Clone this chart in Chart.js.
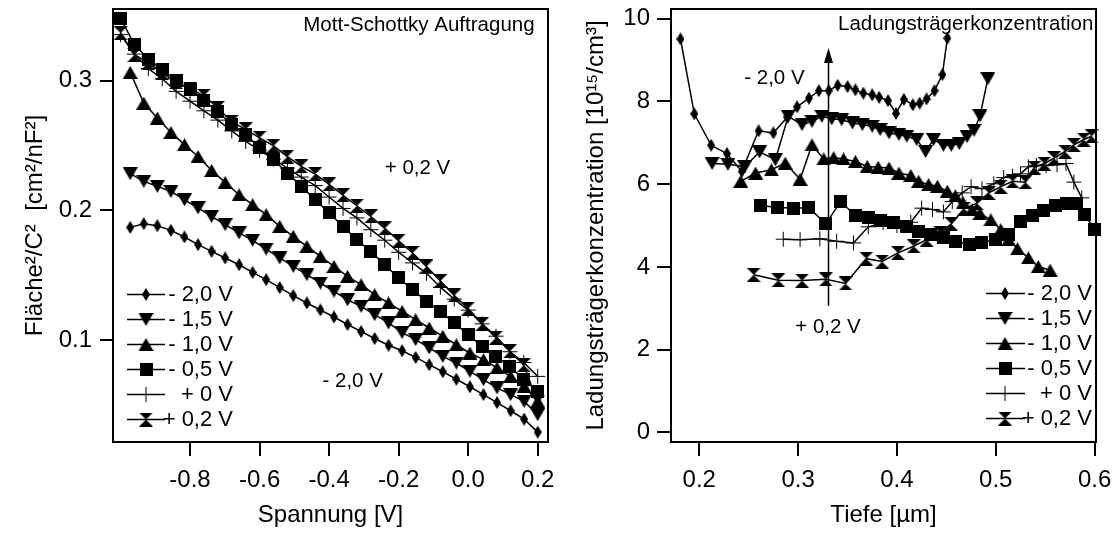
<!DOCTYPE html>
<html><head><meta charset="utf-8">
<script src="https://cdn.jsdelivr.net/npm/chart.js@4.4.1/dist/chart.umd.min.js"></script>
<style>
html,body{margin:0;padding:0;background:#fff;}
#wrap{position:relative;width:1117px;height:535px;overflow:hidden;}
canvas{position:absolute;top:0;}
#cl{left:0;width:560px;height:535px;}
#cr{left:560px;width:557px;height:535px;}
</style></head><body>
<div id="wrap"><canvas id="cl" width="560" height="535"></canvas><canvas id="cr" width="557" height="535"></canvas></div>
<script>
// ---------------- DATA ----------------
const seriesLabels = ['- 2,0 V','- 1,5 V','- 1,0 V','- 0,5 V','+ 0 V','+ 0,2 V'];

// Mott-Schottky (left)
const msVoltA = [-0.972,-0.933,-0.894,-0.855,-0.816,-0.777,-0.738,-0.699,-0.659,-0.620,-0.581,-0.542,-0.503,-0.464,-0.425,-0.386,-0.347,-0.308,-0.269,-0.229,-0.190,-0.151,-0.112,-0.073,-0.034,0.005,0.044,0.083,0.122,0.161,0.200];
const msVoltB = [-1.00,-0.96,-0.92,-0.88,-0.84,-0.80,-0.76,-0.72,-0.68,-0.64,-0.60,-0.56,-0.52,-0.48,-0.44,-0.40,-0.36,-0.32,-0.28,-0.24,-0.20,-0.16,-0.12,-0.08,-0.04,0.00,0.04,0.08,0.12,0.16,0.20];
const msM20 = [0.1869,0.1897,0.1882,0.1846,0.1795,0.1736,0.1684,0.1633,0.1581,0.1522,0.1466,0.1404,0.1343,0.1286,0.1232,0.1178,0.1120,0.1066,0.1012,0.0960,0.0918,0.0866,0.0810,0.0756,0.0698,0.0640,0.0580,0.0518,0.0455,0.0390,0.0290];
const msM15 = [0.2283,0.2224,0.2185,0.2146,0.2082,0.2019,0.1954,0.1890,0.1826,0.1769,0.1702,0.1633,0.1568,0.1504,0.1440,0.1376,0.1311,0.1260,0.1196,0.1132,0.1058,0.1003,0.0939,0.0874,0.0823,0.0759,0.0695,0.0631,0.0579,0.0527,0.0425];
const msM10 = [0.3064,0.2828,0.2712,0.2601,0.2507,0.2416,0.2308,0.2216,0.2121,0.2044,0.1967,0.1877,0.1800,0.1722,0.1645,0.1568,0.1491,0.1427,0.1350,0.1286,0.1221,0.1157,0.1093,0.1029,0.0964,0.0900,0.0849,0.0785,0.0720,0.0643,0.0527];
const msM05 = [0.3483,0.3278,0.3167,0.3085,0.3000,0.2931,0.2846,0.2763,0.2661,0.2584,0.2487,0.2391,0.2288,0.2185,0.2082,0.1980,0.1877,0.1773,0.1684,0.1581,0.1479,0.1389,0.1299,0.1221,0.1132,0.1042,0.0951,0.0874,0.0797,0.0694,0.0604];
const msP00 = [0.3355,0.3205,0.3093,0.3015,0.2918,0.2842,0.2768,0.2696,0.2613,0.2532,0.2464,0.2395,0.2326,0.2257,0.2191,0.2103,0.2015,0.1942,0.1851,0.1770,0.1677,0.1595,0.1515,0.1408,0.1316,0.1231,0.1125,0.1030,0.0910,0.0827,0.0720];
const msP02 = [0.3368,0.3200,0.3140,0.3060,0.2990,0.2935,0.2885,0.2790,0.2683,0.2625,0.2560,0.2498,0.2415,0.2339,0.2280,0.2200,0.2117,0.2036,0.1953,0.1861,0.1766,0.1671,0.1568,0.1456,0.1344,0.1243,0.1123,0.1019,0.0914,0.0807,0.0520];
const msXTicks = [-0.8,-0.6,-0.4,-0.2,0.0,0.2];
const msYTicks = [0.1,0.2,0.3];

// Ladungsträgerkonzentration (right)
const ccM20X = [0.181,0.195,0.212,0.228,0.243,0.260,0.275,0.289,0.299,0.311,0.321,0.331,0.340,0.350,0.358,0.366,0.375,0.382,0.391,0.399,0.407,0.416,0.423,0.430,0.438,0.446,0.451];
const ccM20Y = [9.51,7.70,6.94,6.74,6.31,7.29,7.24,7.62,7.87,8.08,8.26,8.26,8.39,8.36,8.28,8.20,8.16,8.10,8.02,7.71,8.05,7.92,7.96,8.06,8.26,8.65,9.53];
const ccM15X = [0.213,0.229,0.246,0.261,0.277,0.290,0.304,0.314,0.324,0.334,0.344,0.355,0.365,0.375,0.383,0.392,0.402,0.410,0.420,0.429,0.437,0.447,0.455,0.463,0.471,0.478,0.484,0.492];
const ccM15Y = [6.50,6.48,6.42,6.78,6.59,7.64,7.44,7.52,7.64,7.58,7.56,7.48,7.44,7.40,7.32,7.24,7.20,7.16,7.08,6.79,7.08,6.94,6.94,6.98,7.15,7.30,7.65,8.55];
const ccM10X = [0.242,0.257,0.273,0.287,0.302,0.314,0.326,0.336,0.346,0.358,0.370,0.381,0.392,0.402,0.414,0.422,0.432,0.441,0.451,0.459,0.467,0.476,0.484,0.495,0.505,0.513,0.522,0.533,0.543,0.555];
const ccM10Y = [6.07,6.27,6.35,6.51,6.12,6.95,6.61,6.64,6.61,6.55,6.43,6.41,6.39,6.27,6.21,6.07,5.99,5.95,5.83,5.72,5.55,5.38,5.29,5.14,4.90,4.66,4.44,4.22,4.01,3.92];
const ccM05X = [0.262,0.279,0.295,0.311,0.328,0.343,0.358,0.371,0.383,0.397,0.410,0.422,0.434,0.447,0.459,0.473,0.486,0.500,0.513,0.525,0.537,0.548,0.560,0.572,0.582,0.590,0.600];
const ccM05Y = [5.48,5.44,5.42,5.43,5.04,5.58,5.24,5.20,5.13,5.08,4.98,4.86,4.78,4.70,4.62,4.54,4.58,4.67,4.78,5.09,5.24,5.37,5.48,5.53,5.53,5.26,4.90];
const ccP00X = [0.285,0.302,0.322,0.339,0.356,0.371,0.386,0.400,0.414,0.425,0.436,0.447,0.456,0.466,0.475,0.486,0.498,0.508,0.517,0.525,0.533,0.541,0.551,0.562,0.571,0.579,0.587];
const ccP00Y = [4.67,4.66,4.68,4.62,4.58,4.97,5.07,5.00,5.08,5.42,5.39,5.33,5.58,5.79,5.94,5.89,6.01,6.16,6.19,6.25,6.42,6.45,6.45,6.47,6.50,6.05,5.67];
const ccP02X = [0.255,0.280,0.304,0.328,0.348,0.369,0.385,0.401,0.417,0.430,0.444,0.455,0.468,0.481,0.493,0.505,0.517,0.530,0.539,0.549,0.559,0.570,0.579,0.589,0.597];
const ccP02Y = [3.81,3.68,3.67,3.70,3.60,4.20,4.13,4.34,4.50,4.66,4.82,5.04,5.41,5.54,5.79,5.94,6.07,6.05,6.40,6.50,6.63,6.79,6.95,7.08,7.16];
const ccXTicks = [0.2,0.3,0.4,0.5,0.6];
const ccYTicks = [0,2,4,6,8,10];
const arrowX = 0.33, arrowFrom = 3.06, arrowTip = 9.29;

// ---------------- STYLE HELPERS ----------------
const FONT = "'Liberation Sans', Arial, Helvetica, sans-serif";

function marker(kind){
  const dims = {diamond:[8,13], triUp:[15,13], triDown:[15,13], square:[13,13], hour:[14,14]}[kind];
  const w = dims[0], h = dims[1];
  const c = document.createElement('canvas'); c.width = w; c.height = h;
  const g = c.getContext('2d'); g.fillStyle = '#000'; g.beginPath();
  if (kind === 'diamond'){ g.moveTo(w/2,0); g.lineTo(w,h/2); g.lineTo(w/2,h); g.lineTo(0,h/2); }
  else if (kind === 'triUp'){ g.moveTo(w/2,0); g.lineTo(w,h); g.lineTo(0,h); }
  else if (kind === 'triDown'){ g.moveTo(0,0); g.lineTo(w,0); g.lineTo(w/2,h); }
  else if (kind === 'square'){ g.rect(0,0,w,h); }
  else if (kind === 'hour'){ g.moveTo(0,0); g.lineTo(w,0); g.lineTo(w/2,h/2); g.closePath(); g.moveTo(0,h); g.lineTo(w,h); g.lineTo(w/2,h/2); }
  g.closePath(); g.fill();
  return c;
}
const markerStyles = [marker('diamond'), marker('triDown'), marker('triUp'), marker('square'), 'cross', marker('hour')];

function pts(xs, ys){ return xs.map((v,i)=>({x:v, y:ys[i]})); }

function makeDatasets(pairs){
  return pairs.map((p,i)=>({
    label: seriesLabels[i], data: pts(p[0], p[1]),
    borderColor:'#000', borderWidth:1.5, tension:0, fill:false, clip:false,
    pointStyle: markerStyles[i], pointRadius: markerStyles[i]==='cross' ? 7.5 : 6,
    pointBackgroundColor:'#000', pointBorderColor:'#000',
    pointBorderWidth: markerStyles[i]==='cross' ? 1 : 0,
    pointHoverRadius: markerStyles[i]==='cross' ? 7.5 : 6
  }));
}

function axis(o){
  return {
    type:'linear', min:o.min, max:o.max,
    afterBuildTicks: s => { s.ticks = o.vals.map(v=>({value:v})); },
    afterFit: s => { if (o.horizontal) s.height = o.size; else s.width = o.size;
      s.paddingLeft = 0; s.paddingRight = 0; s.paddingTop = 0; s.paddingBottom = 0; },
    grid:{display:true, drawOnChartArea:false, drawTicks:true, tickLength:o.tickLen, color:'#000', lineWidth:2},
    border:{display:false},
    ticks:{autoSkip:false, maxRotation:0, minRotation:0, padding:o.labelPad, color:'#000',
      font:{family:FONT, size:24}, callback:o.fmt},
    title:{display:true, text:o.title, color:'#000', font:{family:FONT, size:24},
      padding: o.horizontal ? {top:0, bottom:o.titlePad} : {top:o.titlePad, bottom:0}}
  };
}

const framePlugin = { id:'frame', beforeDatasetsDraw(chart){
  const {ctx, chartArea:a} = chart; ctx.save(); ctx.strokeStyle='#000'; ctx.lineWidth=2;
  ctx.strokeRect(a.left, a.top, a.right-a.left, a.bottom-a.top); ctx.restore(); } };

function legendPlugin(L){
  return { id:'boxLegend', afterDraw(chart){
    const ctx = chart.ctx; ctx.save();
    chart.data.datasets.forEach((ds,i)=>{
      const y = L.y0 + i*L.dy;
      ctx.strokeStyle='#000'; ctx.fillStyle='#000'; ctx.lineWidth=1.5;
      ctx.beginPath(); ctx.moveTo(L.x1,y); ctx.lineTo(L.x2,y); ctx.stroke();
      ctx.lineWidth = 1;
      Chart.helpers.drawPoint(ctx, {pointStyle:ds.pointStyle, radius:ds.pointRadius, rotation:0, borderWidth:ds.pointBorderWidth}, L.xm, y);
      ctx.font = L.font; ctx.textAlign='right'; ctx.textBaseline='middle';
      ctx.fillText(ds.label, L.xt, y);
    });
    ctx.restore(); } };
}

function notesPlugin(items, arrow){
  return { id:'notes', afterDraw(chart){
    const {ctx, scales:{x, y}} = chart; ctx.save(); ctx.fillStyle='#000'; ctx.strokeStyle='#000';
    ctx.font = "20.5px " + FONT; ctx.textBaseline='middle';
    items.forEach(it=>{ ctx.textAlign = it.align; ctx.fillText(it.text, x.getPixelForValue(it.x), y.getPixelForValue(it.y)); });
    if (arrow){
      const px = Math.round(x.getPixelForValue(arrow.x)) + 0.5;
      const pb = y.getPixelForValue(arrow.from), pt = y.getPixelForValue(arrow.tip);
      ctx.lineWidth = 1.5; ctx.beginPath(); ctx.moveTo(px,pb); ctx.lineTo(px,pt+10); ctx.stroke();
      ctx.beginPath(); ctx.moveTo(px,pt); ctx.lineTo(px+4.5,pt+15); ctx.lineTo(px-4.5,pt+15); ctx.closePath(); ctx.fill();
    }
    ctx.restore(); } };
}

const baseOpts = { responsive:false, animation:false, devicePixelRatio:1, events:[],
  plugins:{legend:{display:false}, tooltip:{enabled:false}} };

// ---------------- LEFT CHART ----------------
new Chart(document.getElementById('cl'), {
  type:'line',
  data:{ datasets: makeDatasets([[msVoltA,msM20],[msVoltA,msM15],[msVoltA,msM10],[msVoltB,msM05],[msVoltB,msP00],[msVoltB,msP02]]) },
  options:Object.assign({}, baseOpts, {
    layout:{padding:{left:0, top:9, right:12, bottom:0}},
    scales:{
      x: axis({min:-1.0216, max:0.2296, vals:msXTicks, fmt:v=>Number(v).toFixed(1), title:'Spannung [V]', titlePad:5, tickLen:14, labelPad:10, size:93, horizontal:true}),
      y: axis({min:0.0214, max:0.3553, vals:msYTicks, fmt:v=>Number(v).toFixed(1), title:'Fläche²/C²  [cm²/nF²]', titlePad:21, tickLen:13, labelPad:8, size:113, horizontal:false})
    }
  }),
  plugins:[framePlugin,
    legendPlugin({x1:127, x2:165, xm:146, xt:233, y0:294.5, dy:25, font:"22px " + FONT}),
    notesPlugin([
      {text:'Mott-Schottky Auftragung', x:0.191, y:0.3424, align:'right'},
      {text:'+ 0,2 V', x:-0.240, y:0.2327, align:'left'},
      {text:'- 2,0 V', x:-0.419, y:0.0682, align:'left'}
    ], null)]
});

// ---------------- RIGHT CHART ----------------
new Chart(document.getElementById('cr'), {
  type:'line',
  data:{ datasets: makeDatasets([[ccM20X,ccM20Y],[ccM15X,ccM15Y],[ccM10X,ccM10Y],[ccM05X,ccM05Y],[ccP00X,ccP00Y],[ccP02X,ccP02Y]]) },
  options:Object.assign({}, baseOpts, {
    layout:{padding:{left:0, top:9, right:21, bottom:0}},
    scales:{
      x: axis({min:0.1714, max:0.6014, vals:ccXTicks, fmt:v=>Number(v).toFixed(1), title:'Tiefe [µm]', titlePad:5, tickLen:14, labelPad:10, size:93, horizontal:true}),
      y: axis({min:-0.232, max:10.235, vals:ccYTicks, fmt:v=>String(Math.round(v)), title:'Ladungsträgerkonzentration [10¹⁵/cm³]', titlePad:22, tickLen:14, labelPad:7, size:111, horizontal:false})
    }
  }),
  plugins:[framePlugin,
    legendPlugin({x1:426, x2:465, xm:445, xt:532, y0:293.5, dy:25, font:"22px " + FONT}),
    notesPlugin([
      {text:'Ladungsträgerkonzentration', x:0.5987, y:9.855, align:'right'},
      {text:'- 2,0 V', x:0.2455, y:8.55, align:'left'},
      {text:'+ 0,2 V', x:0.2971, y:2.55, align:'left'}
    ], {x:arrowX, from:arrowFrom, tip:arrowTip})]
});
</script>
</body></html>
